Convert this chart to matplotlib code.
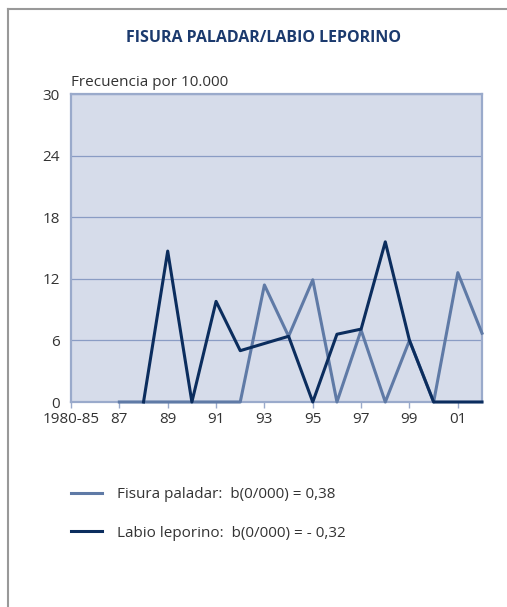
import matplotlib
matplotlib.use("Agg")
import matplotlib.pyplot as plt
from matplotlib.lines import Line2D
import numpy as np

plt.rcParams["font.family"] = ["Open Sans", "DejaVu Sans"]

# categorías del eje x
anios = ["1980-85", "86", "87", "88", "89", "90", "91", "92", "93", "94",
         "95", "96", "97", "98", "99", "00", "01", "02"]
etiquetas_x = ["1980-85", "87", "89", "91", "93", "95", "97", "99", "01"]

# frecuencia por 10.000 (None = sin dato)
fisura = [None, None, 0, 0, 0, 0, 0, 0, 11.4, 6.4, 11.9, 0, 7.0, 0, 6.0, 0, 12.6, 6.7]
labio = [None, None, None, 0, 14.7, 0, 9.8, 5.0, 5.7, 6.4, 0, 6.6, 7.1, 15.6, 6.0, 0, 0, 0]

etiqueta_fisura = "Fisura paladar:  b(0/000) = 0,38"
etiqueta_labio = "Labio leporino:  b(0/000) = - 0,32"

c_fisura = "#5f7aa6"
c_labio = "#0b2d5e"
c_fondo = "#d6dcea"
c_borde = "#9aaacb"

W, H = 507, 607
fig = plt.figure(figsize=(W / 100, H / 100), dpi=100)
ax = fig.add_axes([71 / W, 1 - 402 / H, (482 - 71) / W, (402 - 94) / H])
ax.set_facecolor(c_fondo)

x = np.arange(len(anios))
yf = np.array([np.nan if v is None else v for v in fisura])
yl = np.array([np.nan if v is None else v for v in labio])
lf, = ax.plot(x, yf, color=c_fisura, lw=2.2, label=etiqueta_fisura, zorder=3, clip_on=False)
ll, = ax.plot(x, yl, color=c_labio, lw=2.2, label=etiqueta_labio, zorder=4, clip_on=False)

ax.set_xlim(0, len(anios) - 1)
ax.set_ylim(0, 30)
ax.set_yticks([0, 6, 12, 18, 24, 30])
ax.set_xticks([anios.index(e) for e in etiquetas_x])
ax.set_xticklabels(etiquetas_x)
ax.yaxis.grid(True, color="#8a9cc4", lw=0.9)
ax.set_axisbelow(True)
for s in ax.spines.values():
    s.set_color(c_borde)
    s.set_linewidth(1.6)
ax.tick_params(axis="x", length=4, color=c_borde, width=1, labelsize=11, labelcolor="#333333", pad=3)
ax.tick_params(axis="y", length=0, labelsize=11, labelcolor="#333333", pad=8)

fig.text(71 / W, 1 - 82 / H, "Frecuencia por 10.000", fontsize=11, color="#333333",
         ha="left", va="center")
fig.text(263 / W, 1 - 38 / H, "FISURA PALADAR/LABIO LEPORINO", fontsize=11.5,
         fontweight="bold", color="#1b3a6e", ha="center", va="center")

fig.legend(handles=[lf, ll], loc="upper left", bbox_to_anchor=(71 / W, 1 - 487 / H),
           frameon=False, fontsize=11, handlelength=2.0, handletextpad=1.0,
           borderpad=0, borderaxespad=0, labelspacing=1.55, labelcolor="#333333")

# marco de la ficha
fig.add_artist(Line2D([7.5 / W, 7.5 / W], [0, 1 - 9 / H], color="#999999", lw=1.5))
fig.add_artist(Line2D([7.5 / W, 1], [1 - 9 / H, 1 - 9 / H], color="#999999", lw=1.5))

fig.savefig("out.png", dpi=100)
